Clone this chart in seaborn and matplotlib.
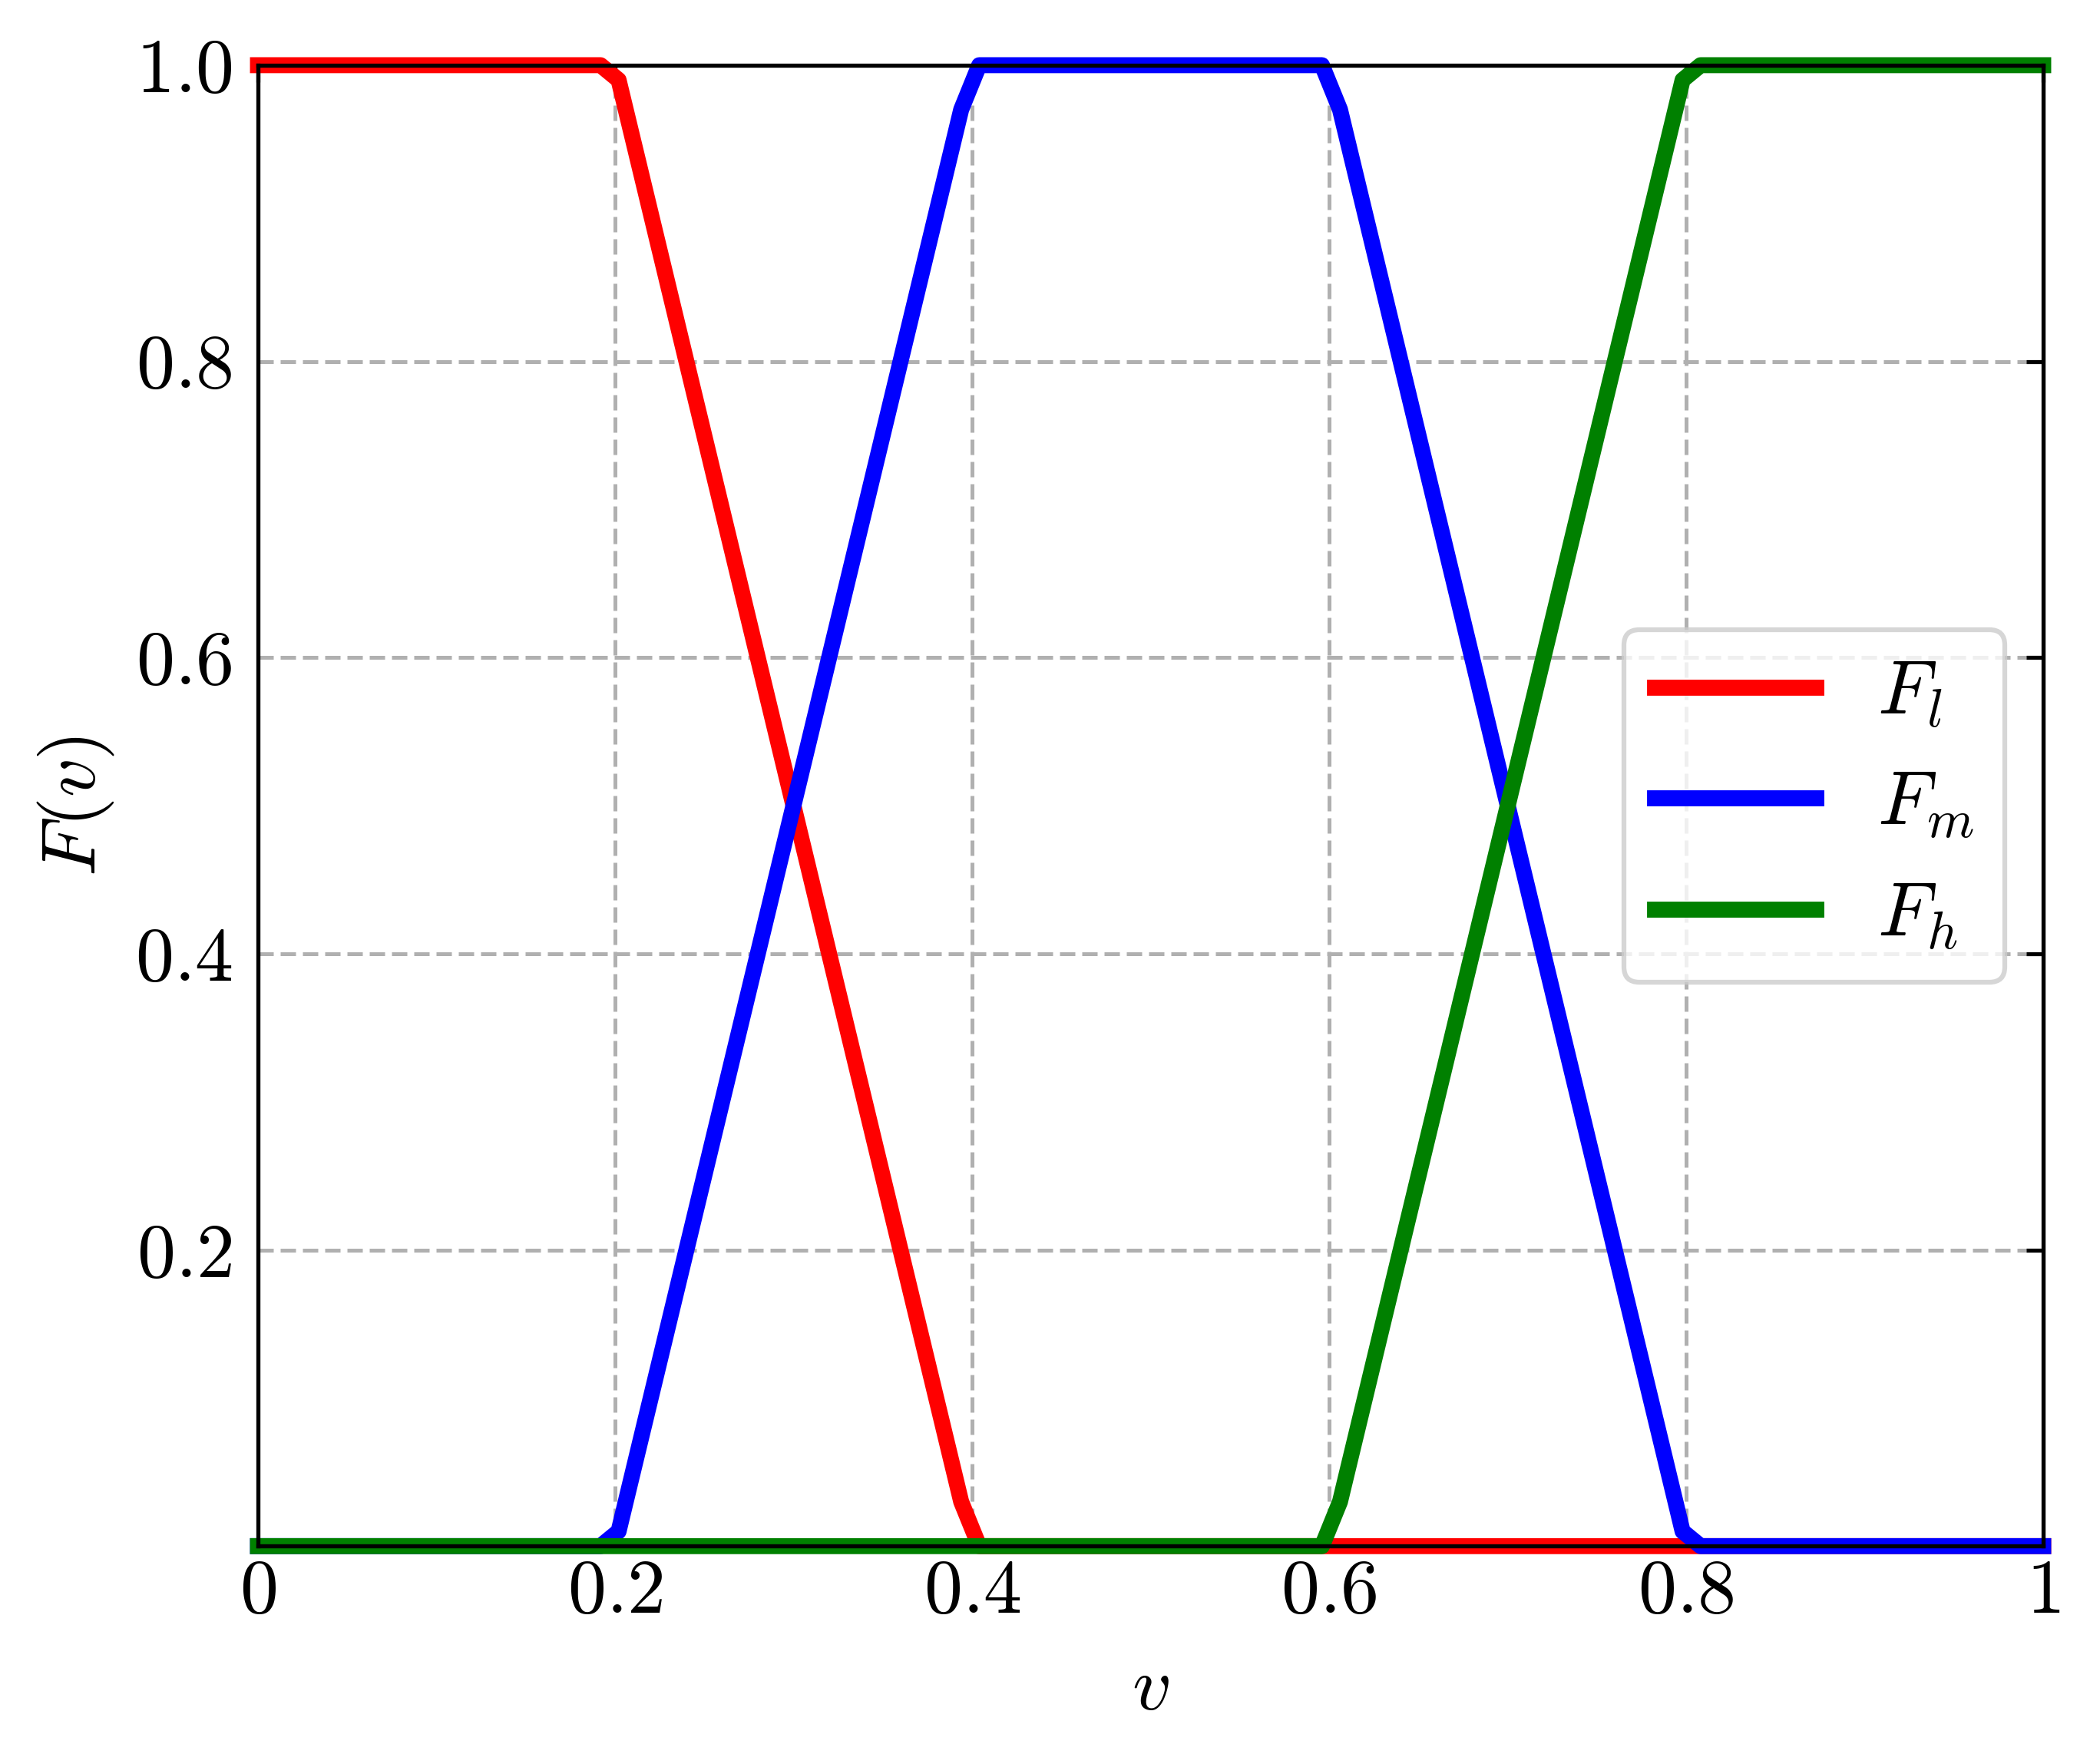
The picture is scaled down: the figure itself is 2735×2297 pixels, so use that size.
import numpy as np
import pandas as pd
import matplotlib
matplotlib.use("Agg")
import matplotlib.pyplot as plt
import seaborn as sns

# ---- data (breakpoints of the sampled membership curves) ----
v = [0.0, 0.1919, 0.2020, 0.3939, 0.4040, 0.5960, 0.6061, 0.7980, 0.8081, 1.0]
F_l = [1.0, 1.0, 0.99, 0.03, 0.0, 0.0, 0.0, 0.0, 0.0, 0.0]
F_m = [0.0, 0.0, 0.01, 0.97, 1.0, 1.0, 0.97, 0.01, 0.0, 0.0]
F_h = [0.0, 0.0, 0.0, 0.0, 0.0, 0.0, 0.03, 0.99, 1.0, 1.0]
series_labels = ["$F_l$", "$F_m$", "$F_h$"]
series_colors = ["red", "blue", "green"]
xtick_vals = [0, 0.2, 0.4, 0.6, 0.8, 1.0]
xtick_labels = ["$0$", "$0.2$", "$0.4$", "$0.6$", "$0.8$", "$1$"]
ytick_vals = [0.2, 0.4, 0.6, 0.8, 1.0]
ytick_labels = ["$0.2$", "$0.4$", "$0.6$", "$0.8$", "$1.0$"]

df = pd.concat([
    pd.DataFrame({"v": v, "F": F_l, "s": series_labels[0]}),
    pd.DataFrame({"v": v, "F": F_m, "s": series_labels[1]}),
    pd.DataFrame({"v": v, "F": F_h, "s": series_labels[2]}),
], ignore_index=True)

sns.set_style("white")
plt.rcParams["mathtext.fontset"] = "cm"
plt.rcParams["font.family"] = ["serif"]
plt.rcParams["font.serif"] = ["cmr10", "DejaVu Serif"]
plt.rcParams["axes.formatter.use_mathtext"] = True
for k in ["text.color", "axes.labelcolor", "xtick.color", "ytick.color"]:
    plt.rcParams[k] = "black"

fig = plt.figure(figsize=(9.12, 7.657), dpi=300)
ax = fig.add_axes([0.1228, 0.1235, 0.9726 - 0.1228, 0.963 - 0.1235])

LW = 5.0
sns.lineplot(data=df, x="v", y="F", hue="s", palette=series_colors,
             hue_order=series_labels, linewidth=LW, ax=ax, sort=False,
             estimator=None, legend=True)
for ln in ax.get_lines():
    ln.set_solid_capstyle("projecting")
    ln.set_clip_on(False)
    ln.set_solid_joinstyle("round")

ax.set_xlim(0, 1)
ax.set_ylim(0, 1)
ax.set_xticks(xtick_vals)
ax.set_xticklabels(xtick_labels)
ax.set_yticks(ytick_vals)
ax.set_yticklabels(ytick_labels)
ax.tick_params(axis="both", which="both", direction="in", labelsize=24,
               length=5.2, width=1.25, top=True, right=True)
ax.tick_params(axis="x", pad=4)
ax.tick_params(axis="y", pad=8)
for sp in ax.spines.values():
    sp.set_visible(True)
    sp.set_color("black")
    sp.set_linewidth(1.28)
    sp.set_zorder(3)

ax.grid(True, linestyle=(0, (4.0, 1.8)), color="#b0b0b0", linewidth=1.2)
ax.set_axisbelow(True)

ax.set_xlabel("$v$", fontsize=24, labelpad=9)
ax.set_ylabel("$F(v)$", fontsize=24, labelpad=6)

leg = ax.legend(loc="center right", fontsize=24, frameon=True, fancybox=True,
                framealpha=0.8, edgecolor="0.8", handlelength=2.1,
                borderpad=0.4, labelspacing=0.54, handletextpad=0.8,
                bbox_to_anchor=(1.0, 0.5))
leg.get_frame().set_linewidth(1.5)
for h in leg.get_lines():
    h.set_linewidth(LW)

fig.savefig("out.png", dpi=300)
